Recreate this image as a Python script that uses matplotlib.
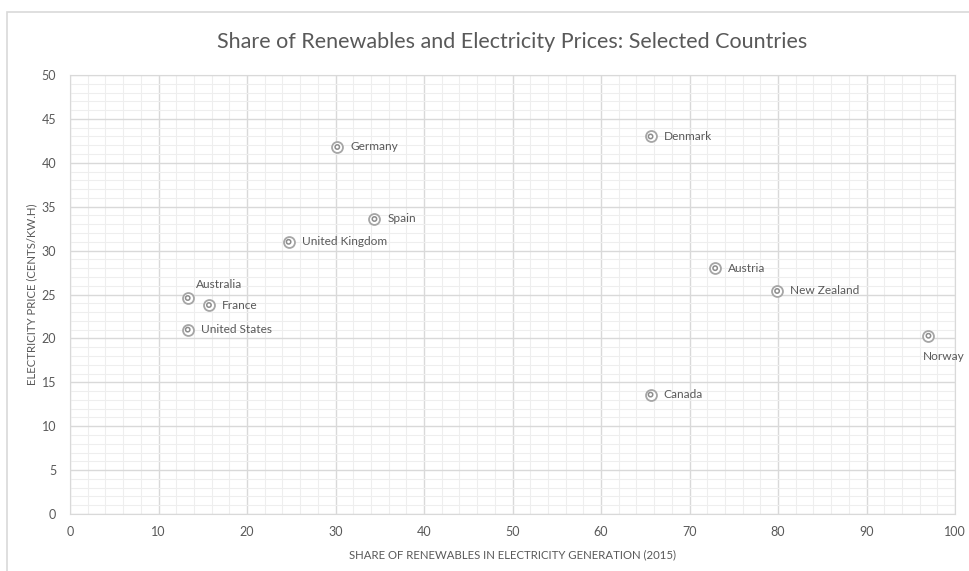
import matplotlib
matplotlib.use("Agg")
import matplotlib.pyplot as plt
from matplotlib.ticker import MultipleLocator

countries = ["Germany", "Denmark", "Spain", "United Kingdom", "Austria", "New Zealand",
             "Australia", "France", "United States", "Norway", "Canada"]
renewables = [30.2, 65.6, 34.4, 24.7, 72.9, 79.9, 13.3, 15.7, 13.3, 97.0, 65.6]
price = [41.8, 43.0, 33.6, 31.0, 28.0, 25.4, 24.6, 23.8, 21.0, 20.3, 13.6]

# label offsets (points) - most sit right of the marker
offsets = {"Australia": (6, 10, "left"), "Norway": (-4, -15, "left")}

plt.rcParams["font.family"] = ["Lato", "DejaVu Sans"]
grey = "#595959"

fig = plt.figure(figsize=(9.69, 5.71), dpi=100)
W, H = 969, 571
ax = fig.add_axes([70 / W, 1 - 514 / H, 885 / W, 439 / H])

# outer chart frame
fig.patches.append(plt.Rectangle((7 / W, -0.1), 1.2, 1.1 - 12 / H, transform=fig.transFigure,
                                 fill=False, edgecolor="#d9d9d9", lw=1.2))

ax.set_xlim(0, 100)
ax.set_ylim(0, 50)
ax.xaxis.set_major_locator(MultipleLocator(10))
ax.xaxis.set_minor_locator(MultipleLocator(2))
ax.yaxis.set_major_locator(MultipleLocator(5))
ax.yaxis.set_minor_locator(MultipleLocator(1))
ax.grid(which="major", color="#d9d9d9", lw=1.0)
ax.grid(which="minor", color="#eeeeee", lw=0.8)
ax.set_axisbelow(True)
for s in ax.spines.values():
    s.set_color("#d9d9d9")
ax.tick_params(which="both", length=0, colors=grey, labelsize=9)
ax.tick_params(axis="y", pad=10)
ax.tick_params(axis="x", pad=9)

ax.scatter(renewables, price, s=62, facecolor="white", edgecolor="#a6a6a6", lw=1.3, zorder=3)
ax.scatter(renewables, price, s=10, facecolor="none", edgecolor="#8c8c8c", lw=1.1, zorder=4)

for c, x, y in zip(countries, renewables, price):
    dx, dy, ha = offsets.get(c, (9.5, 0, "left"))
    ax.annotate(c, (x, y), xytext=(dx, dy), textcoords="offset points",
                ha=ha, va="center", fontsize=8.6, color=grey, annotation_clip=False)

ax.set_xlabel("SHARE OF RENEWABLES IN ELECTRICITY GENERATION (2015)", fontsize=8.2,
              color=grey, labelpad=8)
ax.set_ylabel("ELECTRICITY PRICE (CENTS/KW.H)", fontsize=8.2, color=grey, labelpad=3)

fig.text(512 / W, 1 - 42 / H, "Share of Renewables and Electricity Prices: Selected Countries",
         ha="center", va="center", fontsize=15.5, color=grey)

fig.savefig("out.png", dpi=100)
